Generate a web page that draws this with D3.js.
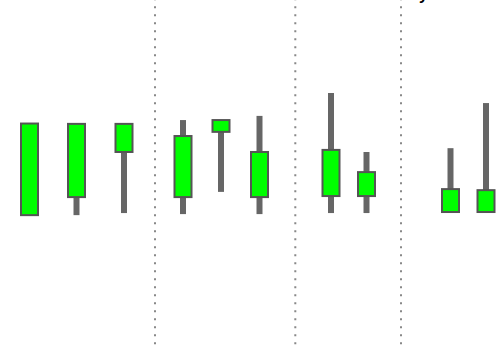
<!DOCTYPE html>
<html>
<head>
<meta charset="utf-8">
<script src="https://cdn.jsdelivr.net/npm/d3@7"></script>
<style>
  html, body { margin: 0; padding: 0; background: #fff; }
  svg { display: block; }
</style>
</head>
<body>
<svg id="chart" width="500" height="347"></svg>
<script>
// Session positions (time units) of each candle
const sessions = [2.95, 7.65, 12.4, 18.3, 22.1, 25.95, 33.1, 36.65, 45.05, 48.6];
const highs  = [64.4, 64.3, 64.3, 65.4, 65.4, 66.6, 73.2, 56.2, 57.3, 70.3];
const lows   = [38.0, 38.0, 38.6, 38.3, 44.7, 38.3, 38.6, 38.6, 38.9, 38.9];
const opens  = [38.0, 43.2, 56.2, 43.2, 62.0, 43.2, 43.5, 43.5, 38.9, 38.9];
const closes = [64.4, 64.3, 64.3, 60.8, 65.4, 56.2, 56.8, 50.4, 45.5, 45.2];
// Period boundaries
const separators = [15.5, 29.53, 40.1];
const title = "Weekly";

const W = 500, H = 347;
const svg = d3.select("#chart");

const x = d3.scaleLinear().domain([0, 50]).range([0, W]);
const y = d3.scaleLinear().domain([0, 100]).range([H, 0]);

const data = sessions.map((s, i) => ({
  s, high: highs[i], low: lows[i], open: opens[i], close: closes[i]
}));

// separators
svg.append("g").selectAll("line").data(separators).join("line")
  .attr("x1", d => x(d)).attr("x2", d => x(d))
  .attr("y1", 0).attr("y2", H)
  .attr("stroke", "#888")
  .attr("stroke-width", 2)
  .attr("stroke-dasharray", "2,6")
  .attr("stroke-dashoffset", 1.7);

// whiskers
svg.append("g").selectAll("line").data(data).join("line")
  .attr("x1", d => x(d.s)).attr("x2", d => x(d.s))
  .attr("y1", d => y(d.high)).attr("y2", d => y(d.low))
  .attr("stroke", "#666")
  .attr("stroke-width", 6);

// bodies
const bw = 17;
svg.append("g").selectAll("rect").data(data).join("rect")
  .attr("x", d => x(d.s) - bw / 2)
  .attr("width", bw)
  .attr("y", d => y(Math.max(d.open, d.close)))
  .attr("height", d => Math.abs(y(d.open) - y(d.close)))
  .attr("fill", "#00ff00")
  .attr("stroke", "#555")
  .attr("stroke-width", 2);

// title (mostly above the visible area)
svg.append("text")
  .attr("x", 428).attr("y", -0.5)
  .attr("text-anchor", "end")
  .attr("font-family", "Liberation Sans, Arial, sans-serif")
  .attr("font-weight", "bold")
  .attr("font-size", 16)
  .attr("fill", "#000")
  .text(title);
</script>
</body>
</html>
